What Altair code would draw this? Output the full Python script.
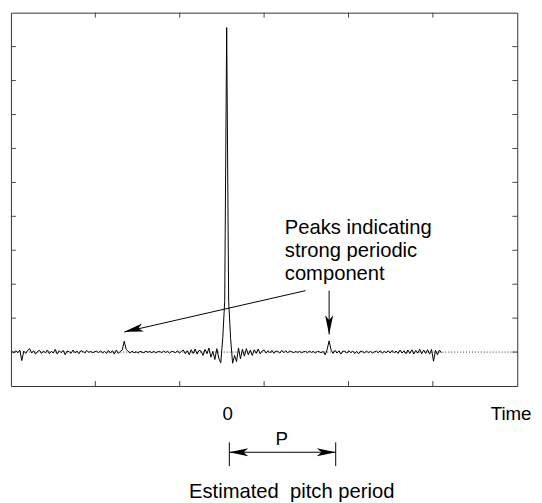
import altair as alt
import pandas as pd

# ---------------- data ----------------
# autocorrelation-like signal, sampled every 2 lag units from -218 to 218
signal_values = [
    0.02, -0.03, 0.04, -0.02, 0.06, -0.25, 0.03, -0.04, 0.05, 0.10,
    -0.03, 0.04, -0.06, 0.02, 0.05, -0.04, 0.03, -0.02, 0.06, -0.05,
    0.02, -0.03, 0.08, -0.06, 0.04, -0.02, 0.05, -0.08, 0.03, 0.01,
    -0.04, 0.06, -0.02, 0.03, -0.05, 0.04, 0.02, -0.03, 0.05, -0.01,
    0.02, -0.02, 0.01, 0.03, -0.02, 0.04, -0.03, 0.02, -0.04, 0.05,
    -0.03, 0.04, -0.06, 0.06, -0.04, 0.02, 0.06, 0.32, 0.08, 0.02,
    -0.03, 0.03, -0.02, 0.01, -0.03, 0.02, 0.00, -0.02, 0.03, -0.01,
    0.02, -0.02, 0.03, -0.03, 0.01, 0.02, -0.02, 0.03, -0.01, 0.02,
    -0.03, 0.02, 0.01, -0.02, 0.04, -0.03, 0.02, 0.06, -0.05, 0.04,
    -0.08, 0.07, -0.04, 0.09, -0.06, 0.05, 0.03, -0.10, 0.08, -0.05,
    0.12, -0.15, 0.02, -0.22, 0.10, -0.18, -0.32, 0.40, 1.50, 9.56,
    1.50, 0.40, -0.33, -0.10, -0.28, 0.12, -0.20, 0.08, -0.12, 0.10,
    -0.08, 0.06, -0.10, 0.07, -0.04, 0.09, -0.05, 0.03, 0.06, -0.03,
    0.04, -0.02, 0.05, -0.04, 0.03, 0.02, -0.03, 0.05, -0.02, 0.04,
    -0.02, 0.03, 0.01, -0.02, 0.02, -0.01, 0.02, -0.02, 0.01, 0.02,
    -0.02, 0.03, -0.01, 0.02, -0.03, 0.02, 0.01, -0.02, 0.02, -0.08,
    0.08, 0.33, 0.06, -0.04, 0.05, -0.03, 0.04, -0.06, 0.03, 0.02,
    -0.03, 0.04, -0.02, 0.03, -0.04, 0.02, -0.05, 0.03, 0.01, -0.02,
    0.03, -0.02, 0.02, -0.03, 0.01, 0.03, -0.02, 0.04, -0.03, 0.02,
    -0.02, 0.04, -0.03, 0.05, -0.02, 0.03, -0.04, 0.06, -0.03, 0.04,
    -0.05, 0.06, -0.04, 0.07, -0.06, 0.05, -0.03, 0.08, -0.05, 0.06,
    -0.04, 0.07, -0.06, 0.08, -0.27, 0.05, -0.08, 0.06, -0.02,
]
signal_lags = list(range(-218, 220, 2))

x_domain = [-219, 295]
y_domain = [-1, 10]
x_ticks = [-133.33, -47.67, 38.0, 123.67, 209.33]
y_ticks = [0, 1, 2, 3, 4, 5, 6, 7, 8, 9]

annot_lines = ["Peaks indicating", "strong periodic", "component"]
annot_y = [3.64, 2.97, 2.30]

W, H = 514, 379
FONT = "Liberation Sans"

sig = pd.DataFrame({"lag": signal_lags, "r": signal_values})

xs = alt.Scale(domain=x_domain, nice=False, zero=False)
ys = alt.Scale(domain=y_domain, nice=False, zero=False)

def X(f):
    return alt.X(f, type="quantitative", scale=xs, axis=None)

def Y(f):
    return alt.Y(f, type="quantitative", scale=ys, axis=None)

# dotted zero line across the whole plot
zero_df = pd.DataFrame({"a": [x_domain[0]], "b": [x_domain[1]], "y": [0]})
zero_line = alt.Chart(zero_df).mark_rule(
    color="#333333", strokeWidth=1, strokeDash=[1, 2]
).encode(x=X("a"), x2="b", y=Y("y"))

signal = alt.Chart(sig).mark_line(color="black", strokeWidth=1).encode(
    x=X("lag"), y=Y("r")
)

# inward ticks
xt = pd.DataFrame({"t": x_ticks})
yt = pd.DataFrame({"t": y_ticks})
tick_color = "#444444"
xt_bottom = alt.Chart(xt).mark_rule(color=tick_color).encode(
    x=X("t"), y=alt.value(H), y2=alt.value(H - 5))
xt_top = alt.Chart(xt).mark_rule(color=tick_color).encode(
    x=X("t"), y=alt.value(0), y2=alt.value(5))
yt_left = alt.Chart(yt).mark_rule(color=tick_color).encode(
    y=Y("t"), x=alt.value(0), x2=alt.value(5))
yt_right = alt.Chart(yt).mark_rule(color=tick_color).encode(
    y=Y("t"), x=alt.value(W), x2=alt.value(W - 5))

# annotation text
ann_df = pd.DataFrame({"x": [59] * 3, "y": annot_y, "t": annot_lines})
ann_text = alt.Chart(ann_df).mark_text(
    align="left", baseline="middle", font=FONT, fontSize=20.5, color="black"
).encode(x=X("x"), y=Y("y"), text="t")

# arrows: shafts
shaft_df = pd.DataFrame({
    "x1": [80, 104, 2.7],
    "y1": [1.81, 1.81, -2.952],
    "x2": [-104, 104, 110.7],
    "y2": [0.59, 0.52, -2.952],
})
shafts = alt.Chart(shaft_df).mark_rule(color="black", strokeWidth=1).encode(
    x=X("x1"), y=Y("y1"), x2="x2", y2="y2")

# arrow heads (tip pointing up in shape coordinates)
head_path = "M0,-1 L0.42,1 L0,0.5 L-0.42,1 Z"
head_df = pd.DataFrame({
    "x": [-94.5, 104, 12.2, 101.2],
    "y": [0.66, 0.80, -2.952, -2.952],
    "ang": [257, 180, 270, 90],
})
heads = alt.Chart(head_df).mark_point(
    shape=head_path, filled=True, color="black", size=380, opacity=1, strokeWidth=0
).encode(x=X("x"), y=Y("y"), angle=alt.Angle("ang:Q", scale=None))

# period bars
bar_df = pd.DataFrame({"x": [2.7, 110.7], "ya": [-2.66, -2.66], "yb": [-3.36, -3.36]})
bars = alt.Chart(bar_df).mark_rule(color="black", strokeWidth=1).encode(
    x=X("x"), y=Y("ya"), y2="yb")

# labels below the plot
lab_c = pd.DataFrame({
    "x": [1, 56, 66],
    "y": [-1.82, -2.575, -4.14],
    "t": ["0", "P", "Estimated\u00a0 pitch period"],
    "fs": [19, 19, 20.5],
})
lab_l = pd.DataFrame({"x": [268], "y": [-1.82], "t": ["Time"]})
labels_c = alt.Chart(lab_c).mark_text(
    align="center", baseline="middle", font=FONT, color="black"
).encode(x=X("x"), y=Y("y"), text="t", size=alt.Size("fs:Q", scale=None, legend=None))
labels_l = alt.Chart(lab_l).mark_text(
    align="left", baseline="middle", font=FONT, fontSize=19, color="black"
).encode(x=X("x"), y=Y("y"), text="t")

chart = alt.layer(
    zero_line, signal, xt_bottom, xt_top, yt_left, yt_right,
    ann_text, shafts, heads, bars, labels_c, labels_l,
).properties(
    width=W, height=H,
    autosize=alt.AutoSizeParams(type="none"),
    padding={"left": 3, "top": 1, "right": 17, "bottom": 114},
).configure_view(stroke="#333333", strokeWidth=1)

chart.save("out.html", embed_options={"renderer": "svg", "actions": False})
